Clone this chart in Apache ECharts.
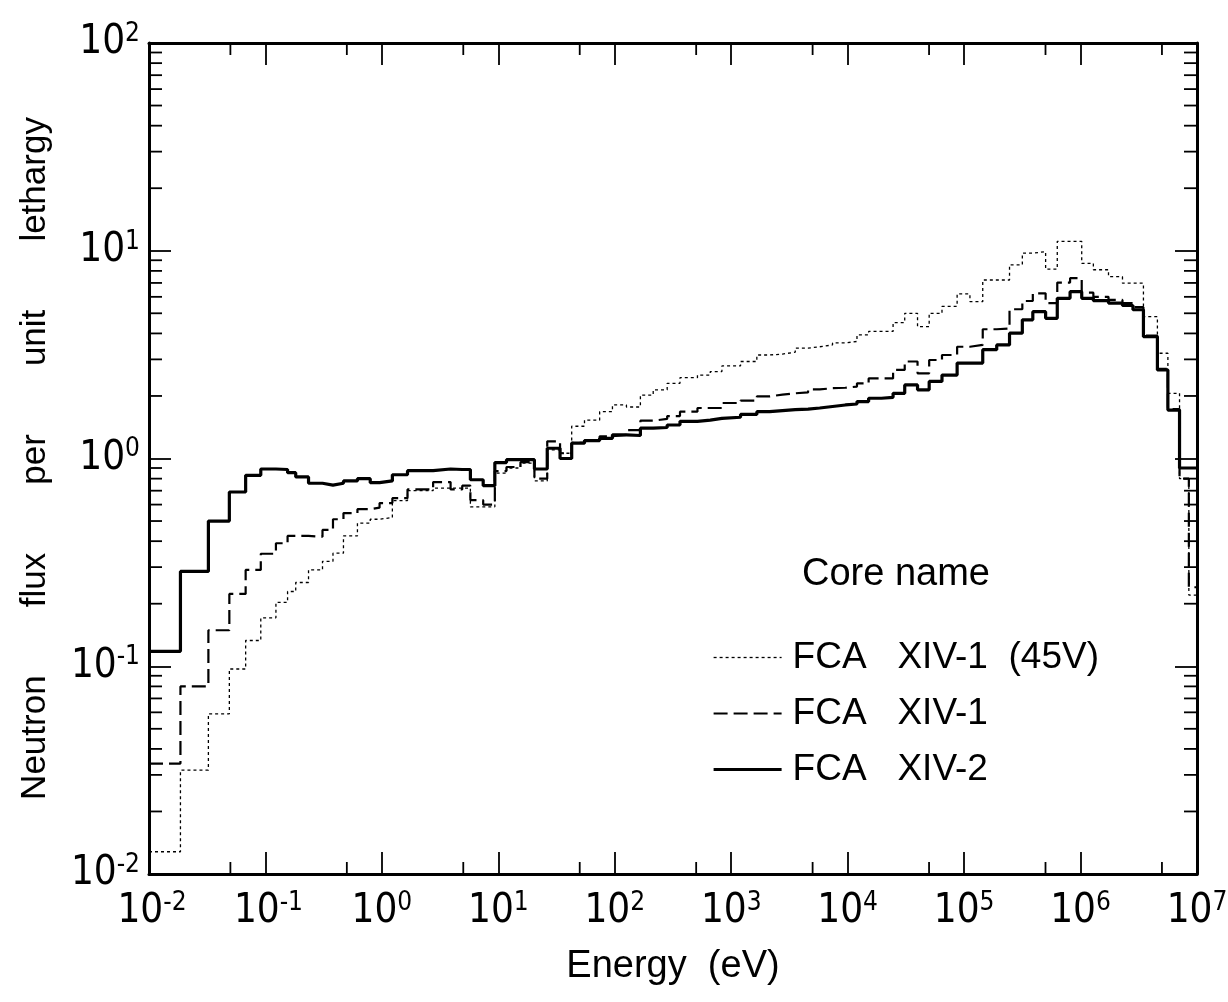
<!DOCTYPE html>
<html>
<head>
<meta charset="utf-8">
<script src="https://cdn.jsdelivr.net/npm/echarts@6/dist/echarts.min.js"></script>
<style>
html,body{margin:0;padding:0;background:#ffffff;overflow:hidden;}
#chart{width:1228px;height:1002px;}
</style>
</head>
<body>
<div id="chart"></div>
<script>
// ---- DATA ----
// Lower edges of the energy groups, as log10(E / eV); last entry is the upper edge of the last group
const binEdgeExp = [
  -2.00, -1.73, -1.49, -1.31, -1.17, -1.04, -0.91, -0.81, -0.74, -0.63,
  -0.51, -0.42, -0.33, -0.21, -0.10, -0.02, 0.09, 0.22, 0.44, 0.59,
  0.69, 0.76, 0.87, 0.97, 1.07, 1.19, 1.31, 1.42, 1.53, 1.63,
  1.74, 1.87, 1.98, 2.10, 2.22, 2.33, 2.45, 2.56, 2.71, 2.82,
  2.92, 3.08, 3.22, 3.33, 3.44, 3.55, 3.66, 3.76, 3.87, 3.98,
  4.08, 4.18, 4.29, 4.39, 4.49, 4.60, 4.70, 4.81, 4.94, 5.05,
  5.16, 5.28, 5.39, 5.50, 5.59, 5.70, 5.80, 5.91, 6.01, 6.11,
  6.24, 6.36, 6.45, 6.54, 6.66, 6.75, 6.85, 6.93, 7.00
];

// FCA XIV-1 (45V)  (dotted)
const fluxXIV1_45V = [
  0.0128, 0.0316, 0.059, 0.097, 0.133, 0.171, 0.203, 0.229, 0.253, 0.291,
  0.32, 0.35, 0.424, 0.489, 0.51, 0.52, 0.627, 0.70, 0.72, 0.72,
  0.72, 0.585, 0.585, 0.85, 0.90, 0.95, 0.78, 1.10, 1.06, 1.43,
  1.53, 1.68, 1.81, 1.77, 2.02, 2.14, 2.30, 2.45, 2.52, 2.62,
  2.79, 2.93, 3.15, 3.18, 3.25, 3.40, 3.45, 3.52, 3.60, 3.66,
  3.94, 4.09, 4.09, 4.51, 5.00, 4.31, 5.00, 5.40, 6.20, 5.69,
  7.23, 7.23, 8.56, 9.73, 9.90, 8.15, 11.1, 11.1, 8.70, 8.10,
  7.50, 6.98, 6.98, 4.82, 3.21, 2.06, 0.80, 0.22
];

// FCA XIV-1  (dashed)
const fluxXIV1 = [
  0.034, 0.080, 0.149, 0.223, 0.291, 0.348, 0.391, 0.424, 0.424, 0.42,
  0.453, 0.51, 0.546, 0.57, 0.58, 0.61, 0.644, 0.71, 0.77, 0.71,
  0.74, 0.63, 0.60, 0.87, 0.91, 0.96, 0.80, 1.21, 1.06, 1.19,
  1.22, 1.28, 1.30, 1.37, 1.52, 1.55, 1.60, 1.68, 1.75, 1.75,
  1.85, 1.90, 1.99, 2.03, 2.06, 2.08, 2.15, 2.18, 2.19, 2.22,
  2.30, 2.43, 2.43, 2.67, 2.93, 2.57, 2.98, 3.15, 3.45, 3.52,
  4.19, 4.22, 5.23, 5.73, 6.24, 5.60, 7.03, 7.38, 6.28, 6.00,
  5.80, 5.60, 5.35, 3.90, 2.70, 1.73, 0.80, 0.24
];

// FCA XIV-2  (solid)
const fluxXIV2 = [
  0.118, 0.286, 0.50, 0.69, 0.83, 0.89, 0.885, 0.855, 0.815, 0.76,
  0.745, 0.76, 0.78, 0.80, 0.765, 0.78, 0.835, 0.874, 0.89, 0.885,
  0.885, 0.79, 0.74, 0.956, 0.987, 0.987, 0.89, 1.12, 1.00, 1.185,
  1.22, 1.25, 1.30, 1.29, 1.40, 1.41, 1.45, 1.51, 1.53, 1.56,
  1.58, 1.63, 1.68, 1.70, 1.72, 1.73, 1.75, 1.78, 1.81, 1.83,
  1.88, 1.95, 1.97, 2.06, 2.26, 2.14, 2.35, 2.52, 2.88, 2.88,
  3.34, 3.52, 4.01, 4.65, 5.09, 4.73, 5.90, 6.35, 5.90, 5.75,
  5.60, 5.45, 5.20, 3.86, 2.67, 1.71, 0.90, 0.90
];

const seriesNames = ['FCA   XIV-1  (45V)', 'FCA   XIV-1', 'FCA   XIV-2'];
const legendTitle = 'Core name';
const xAxisTitle = 'Energy  (eV)';
const yAxisTitle = 'Neutron       flux       per       unit       lethargy';

// axis ranges (decades) and minor tick multipliers
const xMinExp = -2, xMaxExp = 7;
const yMinExp = -2, yMaxExp = 2;
const xMinorMultipliers = [5];
const yMinorMultipliers = [2, 3, 4, 5, 6, 7, 8, 9];

// ---- BUILD ----
const FONT = "'Liberation Sans Narrow', 'DejaVu Sans Condensed', 'Liberation Sans', sans-serif";
const FONT2 = "'Liberation Sans', 'DejaVu Sans', sans-serif";

const lineStyles = [
  { color: '#000', width: 1.3, type: [3, 3] },
  { color: '#000', width: 2.2, type: [14, 6] },
  { color: '#000', width: 3.2, type: 'solid' }
];

function stepData(values) {
  const pts = values.map((v, i) => [Math.pow(10, binEdgeExp[i]), v]);
  pts.push([Math.pow(10, binEdgeExp[binEdgeExp.length - 1]), values[values.length - 1]]);
  return pts;
}

const xMinor = [], yMinor = [];
for (let d = xMinExp; d < xMaxExp; d++) xMinorMultipliers.forEach(m => xMinor.push(m * Math.pow(10, d)));
for (let d = yMinExp; d < yMaxExp; d++) yMinorMultipliers.forEach(m => yMinor.push(m * Math.pow(10, d)));

const xMin = Math.pow(10, xMinExp), xMax = Math.pow(10, xMaxExp);
const yMin = Math.pow(10, yMinExp), yMax = Math.pow(10, yMaxExp);

function tickSeries(points, dx, dy) {
  return {
    type: 'custom', xAxisIndex: 0, yAxisIndex: 0, silent: true, clip: false, z: 6,
    data: points,
    renderItem: function (params, api) {
      const p = api.coord([api.value(0), api.value(1)]);
      return {
        type: 'line',
        shape: { x1: p[0], y1: p[1], x2: p[0] + dx, y2: p[1] + dy },
        style: { stroke: '#000', lineWidth: 1.8 }
      };
    }
  };
}

function expOf(v) { return Math.round(Math.log10(v)); }

const richBase = {
  b: { fontFamily: FONT, fontSize: 40, lineHeight: 44, color: '#000' },
  e: { fontFamily: FONT, fontSize: 26, lineHeight: 20, verticalAlign: 'top', color: '#000' },
  pn: { width: 6 }
};

const chart = echarts.init(document.getElementById('chart'), null, { renderer: 'canvas' });

const axisCommonX = {
  type: 'log', logBase: 10, min: xMin, max: xMax, interval: 1,
  axisLine: { show: true, onZero: false, lineStyle: { color: '#000', width: 3 } },
  axisTick: { show: true, inside: true, length: 22, lineStyle: { color: '#000', width: 1.8 } },
  splitLine: { show: false }, minorTick: { show: false }
};
const axisCommonY = {
  type: 'log', logBase: 10, min: yMin, max: yMax, interval: 1,
  axisLine: { show: true, onZero: false, lineStyle: { color: '#000', width: 3 } },
  axisTick: { show: true, inside: true, length: 22, lineStyle: { color: '#000', width: 1.8 } },
  splitLine: { show: false }, minorTick: { show: false }
};

const option = {
  backgroundColor: '#ffffff',
  animation: false,
  grid: { left: 149, top: 43, right: 31, bottom: 128, containLabel: false, outerBoundsMode: 'none' },
  title: {
    text: legendTitle, left: 797, top: 551,
    textStyle: { fontFamily: FONT2, fontSize: 38, fontWeight: 'normal', color: '#000' }
  },
  legend: {
    show: true,
    data: seriesNames.map((n, i) => ({ name: n, lineStyle: lineStyles[i] })),
    orient: 'vertical', left: 707, top: 634,
    itemWidth: 68, itemHeight: 20, itemGap: 19,
    itemStyle: { opacity: 0 },
    textStyle: { fontFamily: FONT2, fontSize: 37, color: '#000', padding: [0, 0, 0, 6] },
    selectedMode: false
  },
  xAxis: [
    Object.assign({}, axisCommonX, {
      position: 'bottom', name: xAxisTitle, nameLocation: 'middle', nameGap: 74,
      nameTextStyle: { fontFamily: FONT2, fontSize: 38, color: '#000' },
      axisLabel: {
        show: true, margin: 16, color: '#000', hideOverlap: false,
        formatter: function (v) {
          const e = expOf(v);
          return (e < 0 ? '{pn|}' : '') + '{b|10}{e|' + e + '}';
        },
        rich: richBase
      }
    }),
    Object.assign({}, axisCommonX, { position: 'top', axisLabel: { show: false } })
  ],
  yAxis: [
    Object.assign({}, axisCommonY, {
      position: 'left', name: yAxisTitle, nameLocation: 'middle', nameGap: 96, nameRotate: 90,
      nameTextStyle: { fontFamily: FONT2, fontSize: 35, color: '#000' },
      axisLabel: {
        show: true, margin: 9, color: '#000',
        formatter: function (v) { return '{b|10}{e|' + expOf(v) + '}'; },
        rich: richBase
      }
    }),
    Object.assign({}, axisCommonY, { position: 'right', axisLabel: { show: false } })
  ],
  series: [
    {
      name: seriesNames[0], type: 'line', step: 'end', symbol: 'none', z: 3,
      data: stepData(fluxXIV1_45V),
      itemStyle: { color: '#000' },
      lineStyle: lineStyles[0]
    },
    {
      name: seriesNames[1], type: 'line', step: 'end', symbol: 'none', z: 4,
      data: stepData(fluxXIV1),
      itemStyle: { color: '#000' },
      lineStyle: lineStyles[1]
    },
    {
      name: seriesNames[2], type: 'line', step: 'end', symbol: 'none', z: 5,
      data: stepData(fluxXIV2),
      itemStyle: { color: '#000' },
      lineStyle: lineStyles[2]
    },
    tickSeries(yMinor.map(v => [xMin, v]), 13, 0),
    tickSeries(yMinor.map(v => [xMax, v]), -13, 0),
    tickSeries(xMinor.map(v => [v, yMin]), 0, -12),
    tickSeries(xMinor.map(v => [v, yMax]), 0, 12)
  ]
};

chart.setOption(option);
</script>
</body>
</html>
